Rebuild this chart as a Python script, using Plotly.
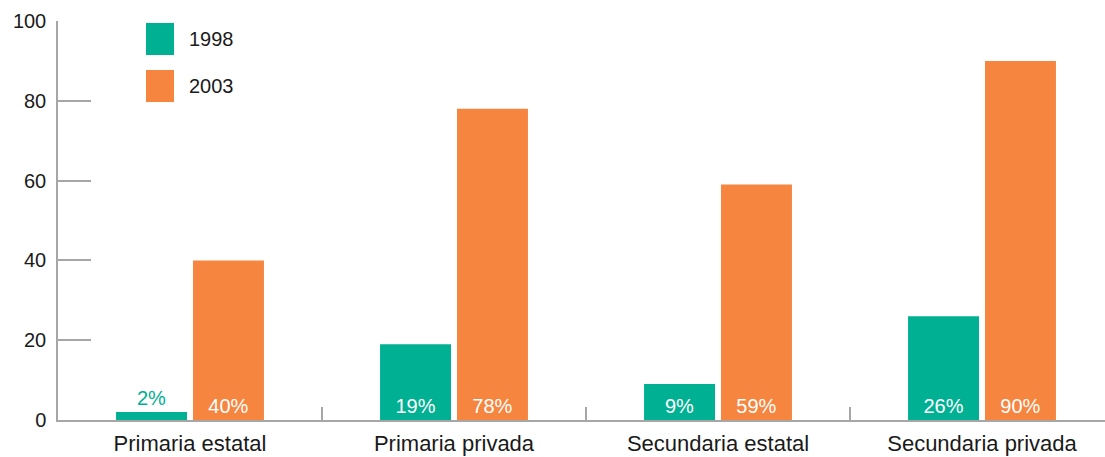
import plotly.graph_objects as go

categories = ["Primaria estatal", "Primaria privada", "Secundaria estatal", "Secundaria privada"]
values_1998 = [2, 19, 9, 26]
values_2003 = [40, 78, 59, 90]
series_names = ["1998", "2003"]
y_ticks = [0, 20, 40, 60, 80, 100]

GREEN = "#00B092"
ORANGE = "#F5853F"
AXIS_GREY = "#A6A6A6"
FONT = "Liberation Sans, Arial, sans-serif"

# Small values get their label above the bar, the rest sit inside at the base
pos_1998 = ["outside" if v < 5 else "inside" for v in values_1998]
pos_2003 = ["outside" if v < 5 else "inside" for v in values_2003]

fig = go.Figure()
for name, vals, pos, color in [
    (series_names[0], values_1998, pos_1998, GREEN),
    (series_names[1], values_2003, pos_2003, ORANGE),
]:
    fig.add_trace(go.Bar(
        x=categories, y=vals, name=name,
        marker=dict(color=color, line=dict(width=0)),
        text=[f"{v}%" for v in vals],
        textposition=pos,
        insidetextanchor="start",
        insidetextfont=dict(color="white", size=20, family=FONT),
        outsidetextfont=dict(color=color, size=20, family=FONT),
        constraintext="none",
        cliponaxis=False,
        showlegend=False,
    ))

# Legend drawn as swatches plus labels
plot_w, plot_h = 1047, 399
def px_x(px):
    return (px - 58) / plot_w
def px_y(py):
    return 1 - (py - 21) / plot_h

shapes = []
annotations = []
for i, (name, color) in enumerate(zip(series_names, [GREEN, ORANGE])):
    top = 23 + i * 47
    shapes.append(dict(type="rect", xref="paper", yref="paper",
                       x0=px_x(146), x1=px_x(174), y0=px_y(top + 32), y1=px_y(top),
                       fillcolor=color, line=dict(width=0)))
    annotations.append(dict(xref="paper", yref="paper", x=px_x(187), y=px_y(top + 16),
                            text=name, showarrow=False, xanchor="left", yanchor="middle",
                            font=dict(size=20, color="#1a1a1a", family=FONT)))

fig.update_layout(
    width=1105, height=457,
    margin=dict(l=58, r=0, t=21, b=37),
    paper_bgcolor="white", plot_bgcolor="white",
    barmode="group", bargap=0.417, bargroupgap=0.078,
    font=dict(family=FONT, color="#1a1a1a"),
    shapes=shapes, annotations=annotations,
    xaxis=dict(
        range=[-0.5, -0.5 + plot_w / 264],
        showline=True, linecolor=AXIS_GREY, linewidth=1.5,
        ticks="inside", tickson="boundaries", ticklen=13, tickcolor=AXIS_GREY, tickwidth=1.5,
        tickfont=dict(size=22, color="#1a1a1a"),
        ticklabelstandoff=3,
        automargin=False,
        showgrid=False, zeroline=False,
    ),
    yaxis=dict(
        range=[0, 100], tickvals=y_ticks,
        showline=True, linecolor=AXIS_GREY, linewidth=1.5,
        ticks="inside", ticklen=33, tickcolor=AXIS_GREY, tickwidth=1.5,
        tickfont=dict(size=20, color="#1a1a1a"),
        ticklabelstandoff=6,
        automargin=False,
        showgrid=False, zeroline=False,
    ),
)

fig.write_html("out.html")
